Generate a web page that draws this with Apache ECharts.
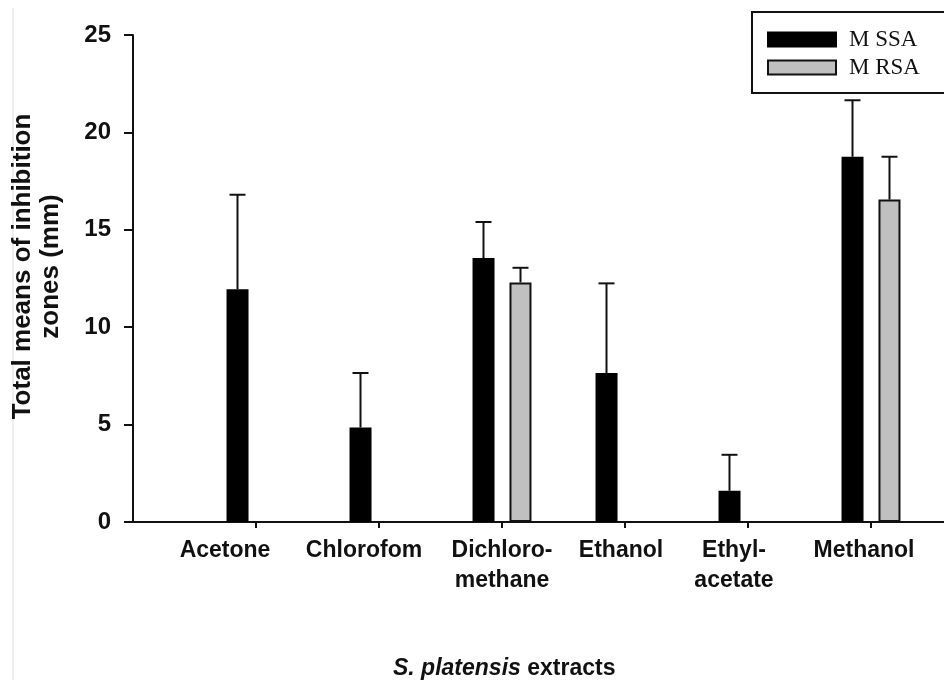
<!DOCTYPE html>
<html>
<head>
<meta charset="utf-8">
<script src="https://cdn.jsdelivr.net/npm/echarts@6/dist/echarts.min.js"></script>
<style>
html,body{margin:0;padding:0;background:#fff;}
#chart{width:944px;height:680px;}
</style>
</head>
<body>
<div id="chart"></div>
<script>
// ---- data ----
const categories = ['Acetone', 'Chlorofom', 'Dichloro-\nmethane', 'Ethanol', 'Ethyl-\nacetate', 'Methanol'];
const mssaMean = [11.95, 4.85, 13.55, 7.65, 1.6, 18.75];
const mssaErr  = [4.85, 2.8, 1.85, 4.6, 1.85, 2.9];
const mrsaMean = [null, null, 12.3, null, null, 16.55];
const mrsaErr  = [null, null, 0.75, null, null, 2.2];
const yTicks = [0, 5, 10, 15, 20, 25];

// label layout (px shift to the left of each tick, as in the reference)
const labelShift = [31, 15, 0, 4, 14, 7];

const FONT = '"Liberation Sans", Arial, sans-serif';
const OFFSET = 18.5;
const axisCats = [' ']
  .concat(categories.map((c, i) => ({ value: c, textStyle: { padding: [0, labelShift[i] * 2, 0, 0] } })))
  .concat(['  ']);

function pairs(vals) { return categories.map((c, i) => [c, vals[i]]); }
function errData(means, errs) {
  return categories.map((c, i) => means[i] == null ? [c, null, null] : [c, means[i], errs[i]]);
}
function errRender(offset) {
  return function (params, api) {
    const v = api.value(1), e = api.value(2);
    if (v == null || isNaN(v) || e == null || isNaN(e)) return;
    const base = api.coord([api.value(0), v]);
    const top = api.coord([api.value(0), v + e]);
    const x = base[0] + offset;
    const style = { stroke: '#111', lineWidth: 2 };
    return {
      type: 'group',
      children: [
        { type: 'line', shape: { x1: x, y1: base[1], x2: x, y2: top[1] }, style },
        { type: 'line', shape: { x1: x - 8, y1: top[1], x2: x + 8, y2: top[1] }, style }
      ]
    };
  };
}

const chart = echarts.init(document.getElementById('chart'));
chart.setOption({
  animation: false,
  backgroundColor: '#fff',
  grid: { left: 133, top: 35, width: 861, height: 487, containLabel: false, outerBoundsMode: 'none' },
  title: {
    text: '{i|S. platensis}{b| extracts}',
    left: 388, top: 652,
    textStyle: {
      rich: {
        i: { fontFamily: FONT, fontSize: 23, fontWeight: 'bold', fontStyle: 'italic', color: '#111' },
        b: { fontFamily: FONT, fontSize: 23, fontWeight: 'bold', color: '#111' }
      }
    }
  },
  legend: {
    left: 752, top: 12,
    orient: 'vertical',
    backgroundColor: '#fff',
    borderColor: '#111', borderWidth: 2, borderRadius: 0,
    padding: [16, 80, 14, 15],
    itemWidth: 68, itemHeight: 14, itemGap: 5,
    icon: 'rect',
    textStyle: { fontFamily: '"Liberation Serif", "Times New Roman", serif', fontSize: 23, color: '#111', padding: [0, 0, 0, 8] },
    data: ['M SSA', 'M RSA']
  },
  xAxis: {
    type: 'category',
    data: axisCats,
    boundaryGap: false,
    axisLine: { lineStyle: { color: '#111', width: 2 } },
    axisTick: { show: true, inside: false, length: 6, interval: function (i) { return i > 0; }, lineStyle: { color: '#111', width: 2 } },
    axisLabel: { interval: 0, margin: 14, fontFamily: FONT, fontSize: 23, fontWeight: 'bold', color: '#111', lineHeight: 30 },
    splitLine: { show: false }
  },
  yAxis: {
    type: 'value',
    min: yTicks[0], max: yTicks[yTicks.length - 1], interval: 5,
    name: 'Total means of inhibition\nzones (mm)',
    nameLocation: 'middle',
    nameGap: 68,
    nameRotate: 90,
    nameTextStyle: { fontFamily: FONT, fontSize: 26, fontWeight: 'bold', color: '#111', lineHeight: 28, padding: [0, 0, 0, 24] },
    axisLine: { show: true, lineStyle: { color: '#111', width: 2 } },
    axisTick: { show: true, inside: false, length: 9, lineStyle: { color: '#111', width: 2 } },
    axisLabel: { margin: 22, fontFamily: FONT, fontSize: 24, fontWeight: 'bold', color: '#111' },
    splitLine: { show: false }
  },
  graphic: [
    { type: 'line', shape: { x1: 13, y1: 8, x2: 13, y2: 680 }, style: { stroke: '#dddddd', lineWidth: 1 }, silent: true }
  ],
  series: [
    {
      name: 'M SSA', type: 'bar', data: pairs(mssaMean),
      barWidth: 22, barGap: '68%',
      itemStyle: { color: '#000', borderColor: '#000', borderWidth: 1.5 }
    },
    {
      name: 'M RSA', type: 'bar', data: pairs(mrsaMean),
      barWidth: 22, barGap: '68%',
      itemStyle: { color: '#c0c0c0', borderColor: '#111', borderWidth: 2 }
    },
    {
      name: 'errMSSA', type: 'custom', data: errData(mssaMean, mssaErr),
      renderItem: errRender(-OFFSET), z: 3, encode: { x: 0, y: 1 }
    },
    {
      name: 'errMRSA', type: 'custom', data: errData(mrsaMean, mrsaErr),
      renderItem: errRender(OFFSET), z: 3, encode: { x: 0, y: 1 }
    }
  ]
});
</script>
</body>
</html>
